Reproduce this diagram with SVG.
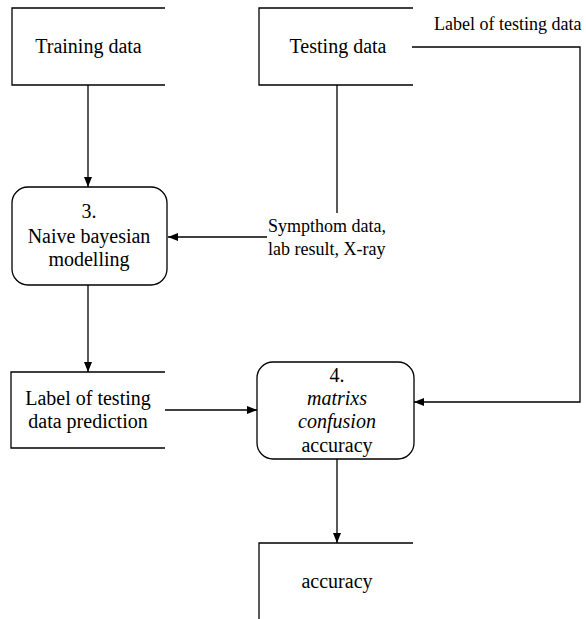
<svg xmlns="http://www.w3.org/2000/svg" width="586" height="619" viewBox="0 0 586 619">
<defs>
<marker id="arr" markerWidth="10" markerHeight="8" refX="10" refY="4" orient="auto" markerUnits="userSpaceOnUse">
<path d="M0,0 L10,4 L0,8 Z" fill="#000"/>
</marker>
<style>
.s{fill:none;stroke:#000;stroke-width:1.3}
.b{fill:#fff;stroke:#000;stroke-width:1.3}
.t{font-size:20px;fill:#000;text-anchor:middle}
.m{font-size:18px;fill:#000}
.i{font-style:italic}
.c{fill:none;stroke:#000;stroke-width:1.3}
</style>
</defs>
<rect width="586" height="619" fill="#fff"/>
<g font-family="'Liberation Serif', 'Times New Roman', 'DejaVu Serif', serif">
<g id="connectors">
<path class="c" d="M88,85 V187" marker-end="url(#arr)"/>
<path class="c" d="M337,85 V213"/>
<path class="c" d="M267,237 H168" marker-end="url(#arr)"/>
<path class="c" d="M88,285 V372" marker-end="url(#arr)"/>
<path class="c" d="M165,410 H257" marker-end="url(#arr)"/>
<path class="c" d="M412,47 H580 V402 H414" marker-end="url(#arr)"/>
<path class="c" d="M337,459 V543" marker-end="url(#arr)"/>
<text class="m" x="434" y="30">Label of testing data</text>
<text class="m" x="268" y="232">Sympthom data,</text>
<text class="m" x="268" y="255">lab result, X-ray</text>
</g>
<g id="training-data">
<path class="s" d="M165,8 H12 V85 H165"/>
<text class="t" x="88.5" y="53">Training data</text>
</g>
<g id="testing-data">
<path class="s" d="M413,8 H259 V85 H413"/>
<text class="t" x="338" y="53">Testing data</text>
</g>
<g id="process-3">
<rect class="b" x="12" y="187" width="155" height="98" rx="16" ry="16"/>
<text class="t" x="89" y="218">3.</text>
<text class="t" x="89" y="243">Naive bayesian</text>
<text class="t" x="89" y="266">modelling</text>
</g>
<g id="label-prediction">
<path class="s" d="M165,372 H11 V448 H165"/>
<text class="t" x="88" y="405">Label of testing</text>
<text class="t" x="88" y="428">data prediction</text>
</g>
<g id="process-4">
<rect class="b" x="257" y="362" width="157" height="97" rx="16" ry="16"/>
<text class="t" x="337" y="382">4.</text>
<text class="t i" x="337" y="405">matrixs</text>
<text class="t i" x="337" y="428">confusion</text>
<text class="t" x="337" y="452">accuracy</text>
</g>
<g id="accuracy-store">
<path class="s" d="M413,543 H259 V619"/>
<text class="t" x="337" y="588">accuracy</text>
</g>
</g>
</svg>
